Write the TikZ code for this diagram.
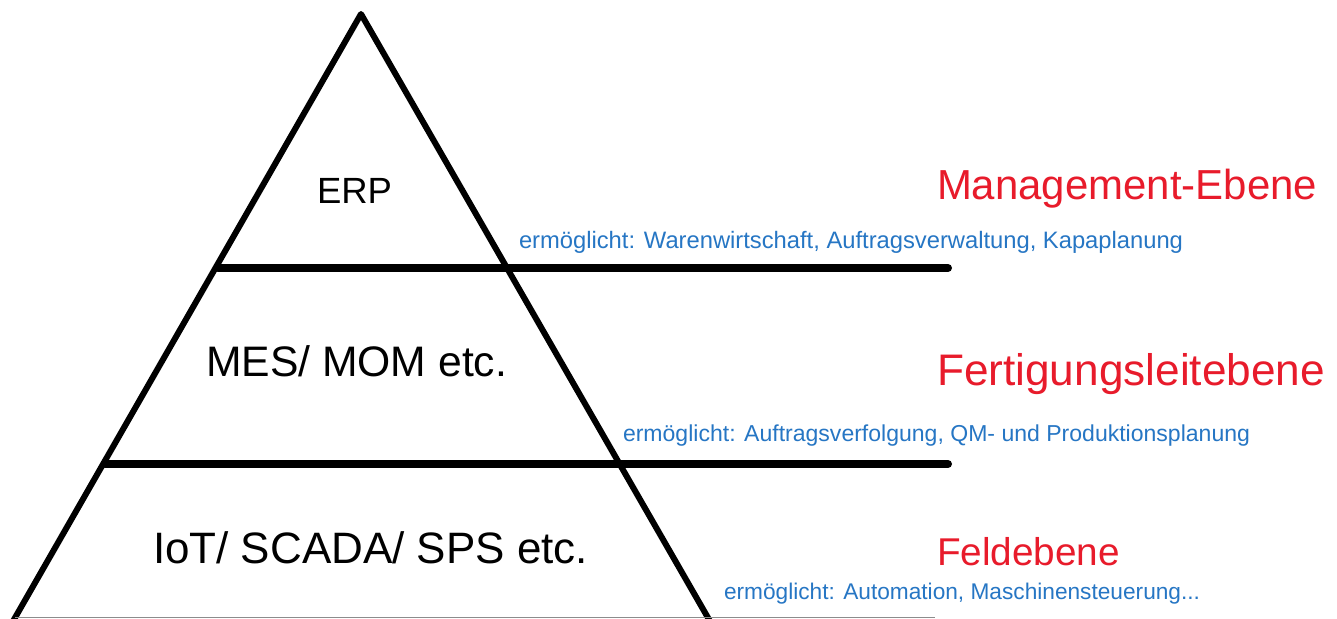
\documentclass[tikz,border=0pt]{standalone}
\usepackage{fontspec}
\setmainfont{Liberation Sans}
\usetikzlibrary{calc}
\definecolor{lvred}{RGB}{232,27,43}
\definecolor{lvblue}{RGB}{38,118,196}
\newcommand{\fitw}[2]{\resizebox{#1}{!}{#2}}
\tikzset{
  edge/.style={line width=4.5pt, line join=round},
  level/.style={line width=6pt, line cap=round},
  lbl/.style={anchor=base west, inner sep=0pt, outer sep=0pt},
  sysname/.style={lbl, text=black},
  levname/.style={lbl, text=lvred},
  note/.style={lbl, text=lvblue}
}
\begin{document}
\begin{tikzpicture}[x=0.75pt, y=-0.75pt]
\useasboundingbox (0,0) rectangle (1337,618);
\fill[white] (0,0) rectangle (1337,618);
% triangle
\coordinate (apex) at (361,14);
\coordinate (bl) at (12,623);
\coordinate (br) at (711,623);
\draw[edge] (bl) -- (apex) -- (br);
% level lines
\coordinate (l1a) at (218,268);
\coordinate (l1b) at (948,268);
\coordinate (l2a) at (105,464);
\coordinate (l2b) at (948,464);
\draw[level] (l1a) -- (l1b);
\draw[level] (l2a) -- (l2b);
% cut-off bottom line
\coordinate (l3a) at (15,617.5);
\coordinate (l3b) at (935,617.5);
\draw[black!45, line width=1.2pt] (l3a) -- (l3b);
% system names
\node[sysname] (erp) at (317,203) {\fitw{56.25pt}{ERP}};
\node[sysname] (mes) at (206,376) {\fitw{225.75pt}{MES/ MOM etc.}};
\node[sysname] (iot) at (153,563) {\fitw{326.25pt}{IoT/ SCADA/ SPS etc.}};
% level names
\node[levname] (mgmt) at (937,199) {\fitw{285pt}{Management-Ebene}};
\node[levname] (fert) at (937,385) {\fitw{291pt}{Fertigungsleitebene}};
\node[levname] (feld) at (937,565) {\fitw{137.25pt}{Feldebene}};
% notes
\node[note] (n1) at (519,248) {\fitw{498pt}{ermöglicht: Warenwirtschaft, Auftragsverwaltung, Kapaplanung}};
\node[note] (n2) at (623,441) {\fitw{470.25pt}{ermöglicht: Auftragsverfolgung, QM- und Produktionsplanung}};
\node[note] (n3) at (724,599) {\fitw{357pt}{ermöglicht: Automation, Maschinensteuerung...}};
\end{tikzpicture}
\end{document}
